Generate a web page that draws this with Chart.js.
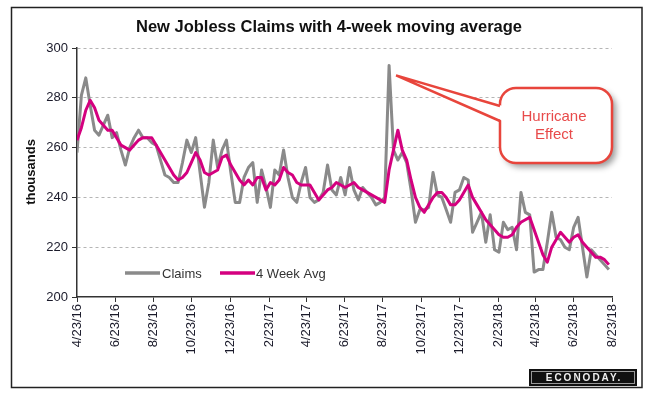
<!DOCTYPE html>
<html>
<head>
<meta charset="utf-8">
<script src="https://cdn.jsdelivr.net/npm/chart.js@4"></script>
<style>
  body { margin: 0; background: #fff; }
  #wrap { width: 652px; height: 396px; }
</style>
</head>
<body>
<div id="wrap"><canvas id="myChart" width="652" height="396"></canvas></div>
<script>
// weekly values, first week = 4/23/16
const claims = [258,281,288,277,267,265,269,273,264,266,
  259,253,260,264,267,264,264,262,261,255,
  249,248,246,246,254,263,258,264,250,236,
  246,263,252,259,263,250,238,238,248,252,
  254,238,251,244,236,251,249,259,248,240,
  238,246,252,240,238,239,242,253,243,241,
  248,241,252,243,239,244,242,240,237,238,
  240,293,259,255,258,254,243,230,235,235,
  236,250,241,240,235,230,242,243,248,247,
  226,230,234,222,233,219,218,230,227,228,
  219,242,234,233,210,211,211,222,234,224,
  223,220,219,228,232,220,208,219,217,215,
  213,211];

const avg4 = [263,268,275,279,276,271,269,267,267,264,
  261,260,259,261,263,264,264,264,261,258,
  255,252,249,247,248,250,254,258,255,250,
  249,250,251,256,257,253,250,247,245,247,
  245,248,248,243,246,245,247,252,250,249,
  246,245,245,245,242,239,241,243,244,246,
  245,244,245,246,244,243,242,241,240,239,
  238,251,259,267,259,255,247,240,236,234,
  237,240,242,242,240,237,237,239,242,245,
  240,237,234,231,229,227,225,224,224,225,
  228,230,231,232,227,222,217,214,220,223,
  226,224,222,224,225,222,220,218,216,216,
  215,213];

// x axis: days since 4/23/16
const tickDays = [0,61,122,183,244,306,365,426,487,548,609,671,730,791,852];
const tickLabels = ['4/23/16','6/23/16','8/23/16','10/23/16','12/23/16','2/23/17','4/23/17',
  '6/23/17','8/23/17','10/23/17','12/23/17','2/23/18','4/23/18','6/23/18','8/23/18'];

const seriesNames = ['Claims', '4 Week Avg'];
const FONT = '"Liberation Sans", Arial, sans-serif';

const toPoints = arr => arr.map((v, i) => ({ x: i * 7, y: v }));

// tytuł, legenda, dymek i logo
const extras = {
  id: 'extras',
  beforeDraw(chart) {
    const c = chart.ctx;
    c.save();
    c.fillStyle = '#fff';
    c.fillRect(0, 0, chart.width, chart.height);
    c.restore();
  },
  afterDraw(chart) {
    const c = chart.ctx;
    const xs = chart.scales.x, ys = chart.scales.y;
    c.save();

    // ramka
    c.strokeStyle = '#222';
    c.lineWidth = 1.5;
    c.strokeRect(11.5, 7.5, 630.5, 380);

    // tytuł
    c.fillStyle = '#111';
    c.font = 'bold 16.5px ' + FONT;
    c.textAlign = 'center';
    c.textBaseline = 'middle';
    c.fillText('New Jobless Claims with 4-week moving average', 329, 27);

    // opis osi Y
    c.save();
    c.translate(31, 172);
    c.rotate(-Math.PI / 2);
    c.font = 'bold 13px ' + FONT;
    c.fillText('thousands', 0, 0);
    c.restore();

    // legenda
    const ds = chart.data.datasets;
    const legendY = 273;
    const items = [{ x0: 125, x1: 160, tx: 162 }, { x0: 220, x1: 255, tx: 256 }];
    items.forEach((it, k) => {
      c.strokeStyle = ds[k].borderColor;
      c.lineWidth = 3.5;
      c.beginPath();
      c.moveTo(it.x0, legendY);
      c.lineTo(it.x1, legendY);
      c.stroke();
      c.fillStyle = '#333';
      c.font = '13px ' + FONT;
      c.textAlign = 'left';
      c.fillText(ds[k].label, it.tx, legendY + 1);
    });

    // dymek "Hurricane Effect"
    const tipX = xs.getPixelForValue(71 * 7) + 7;
    const tipY = ys.getPixelForValue(289);
    const bx = 500, by = 88, bw = 112, bh = 75, r = 16;
    c.save();
    c.shadowColor = 'rgba(0,0,0,0.4)';
    c.shadowBlur = 6;
    c.shadowOffsetX = 4;
    c.shadowOffsetY = 4;
    c.fillStyle = '#fff';
    c.beginPath();
    c.roundRect(bx, by, bw, bh, r);
    c.fill();
    c.restore();
    c.strokeStyle = '#e8453c';
    c.lineWidth = 2.5;
    c.beginPath();
    c.roundRect(bx, by, bw, bh, r);
    c.stroke();
    // klin
    c.fillStyle = '#fff';
    c.beginPath();
    c.moveTo(bx + 3, 106);
    c.lineTo(tipX, tipY);
    c.lineTo(bx + 3, 121);
    c.closePath();
    c.fill();
    c.beginPath();
    c.moveTo(bx, 106);
    c.lineTo(tipX, tipY);
    c.lineTo(bx, 121);
    c.stroke();
    c.fillStyle = '#e84a4a';
    c.font = '15px ' + FONT;
    c.textAlign = 'center';
    c.fillText('Hurricane', 554, 117);
    c.fillText('Effect', 554, 135);

    // logo
    c.fillStyle = '#111';
    c.fillRect(529, 369, 108, 17);
    c.strokeStyle = '#999';
    c.lineWidth = 1;
    c.strokeRect(531.5, 371.5, 103, 12);
    c.fillStyle = '#eee';
    c.font = 'bold 10px ' + FONT;
    c.letterSpacing = '2px';
    c.fillText('ECONODAY.', 584, 378);
    c.restore();
  }
};

const data = {
  datasets: [
    {
      label: seriesNames[0],
      data: toPoints(claims),
      borderColor: '#8a8a8a',
      borderWidth: 3,
      pointRadius: 0,
      tension: 0,
      borderJoinStyle: 'round',
      order: 2
    },
    {
      label: seriesNames[1],
      data: toPoints(avg4),
      borderColor: '#d4007f',
      borderWidth: 3,
      pointRadius: 0,
      tension: 0,
      borderJoinStyle: 'round',
      order: 1
    }
  ]
};

const options = {
  responsive: false,
  animation: false,
  layout: { padding: { top: 48, right: 40, bottom: 0, left: 0 } },
  plugins: {
    legend: { display: false },
    title: { display: false },
    tooltip: { enabled: false }
  },
  scales: {
    x: {
      type: 'linear',
      min: 0,
      max: 852,
      afterFit: s => { s.height = 99; },
      afterBuildTicks: s => { s.ticks = tickDays.map(v => ({ value: v })); },
      grid: { drawOnChartArea: false, drawTicks: true, tickLength: 5, tickColor: '#333' },
      border: { display: true, color: '#333', width: 1.5 },
      ticks: {
        autoSkip: false,
        minRotation: 90,
        maxRotation: 90,
        padding: 2,
        color: '#1a1a2a',
        font: { family: FONT, size: 13 },
        callback: v => tickLabels[tickDays.indexOf(v)]
      }
    },
    y: {
      min: 200,
      max: 300,
      afterFit: s => { s.width = 77; },
      grid: {
        color: ctx => (ctx.tick && ctx.tick.value === 200) ? 'rgba(0,0,0,0)' : '#b5b5b5',
        tickColor: '#333',
        tickLength: 5,
        lineWidth: 1
      },
      border: { display: true, color: '#333', width: 1.5, dash: [3, 3] },
      ticks: {
        stepSize: 20,
        padding: 4,
        color: '#1a1a2a',
        font: { family: FONT, size: 13 }
      }
    }
  }
};

const ctx = document.getElementById('myChart').getContext('2d');
const myChart = new Chart(ctx, { type: 'line', data: data, options: options, plugins: [extras] });
</script>
</body>
</html>
